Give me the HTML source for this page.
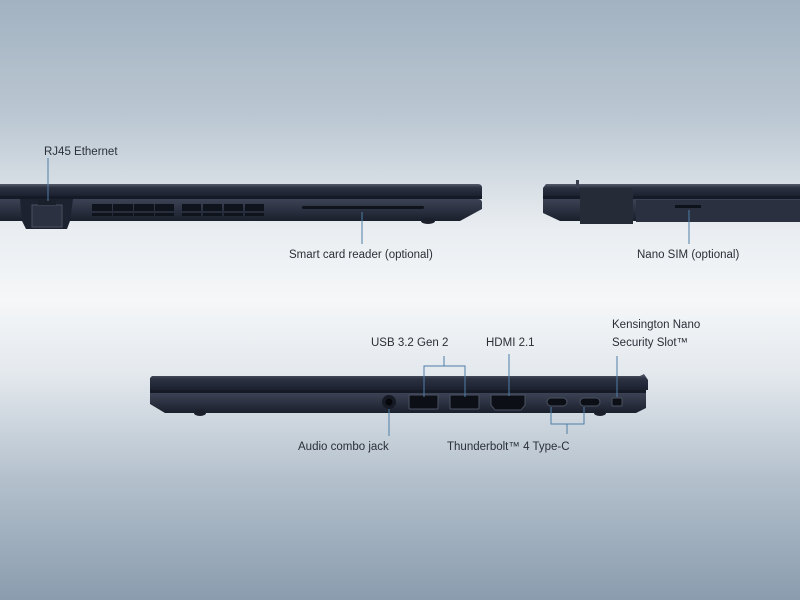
<!DOCTYPE html>
<html><head><style>
html,body{margin:0;padding:0;width:800px;height:600px;overflow:hidden}
text{font-family:"Liberation Sans",sans-serif;font-size:11.5px;fill:#2a2f38}
</style></head><body>
<svg width="800" height="600" viewBox="0 0 800 600" xmlns="http://www.w3.org/2000/svg">
<defs>
<linearGradient id="bg" x1="0" y1="0" x2="0" y2="1">
<stop offset="0" stop-color="#a2b2c1"/>
<stop offset="0.2" stop-color="#bcc8d3"/>
<stop offset="0.38" stop-color="#e9edf1"/>
<stop offset="0.5" stop-color="#f5f7f8"/>
<stop offset="0.62" stop-color="#e4e9ee"/>
<stop offset="0.8" stop-color="#b3c0cc"/>
<stop offset="1" stop-color="#8a9cae"/>
</linearGradient>
<linearGradient id="lid" x1="0" y1="0" x2="0" y2="1">
<stop offset="0" stop-color="#555c6c"/><stop offset="0.3" stop-color="#2c3242"/><stop offset="1" stop-color="#1c2130"/>
</linearGradient>
<linearGradient id="base" x1="0" y1="0" x2="0" y2="1">
<stop offset="0" stop-color="#3c4354"/><stop offset="1" stop-color="#1a1f2c"/>
</linearGradient>
</defs>
<rect width="800" height="600" fill="url(#bg)"/>

<!-- Laptop 1 -->
<path d="M0 184 H478 Q482 184 482 188 V196 H0Z" fill="url(#lid)"/>
<rect x="0" y="196" width="482" height="3" fill="#151a26"/>
<path d="M0 199 H478 Q482 199 482 203 V209 L460 221 H0Z" fill="url(#base)"/>
<ellipse cx="428" cy="221" rx="7" ry="3" fill="#1a1f2b"/>
<path d="M20 199 H73 L70 221 L67 229 H26 L22 221Z" fill="#1d2230"/>
<rect x="32" y="205" width="30" height="22" fill="#2b3140" stroke="#4a5060" stroke-width="1"/>
<rect x="38" y="200" width="18" height="5" fill="#1a1f2a"/>
<g fill="#0f131c">
<rect x="92" y="204" width="20" height="7"/><rect x="113" y="204" width="20" height="7"/><rect x="134" y="204" width="20" height="7"/><rect x="155" y="204" width="19" height="7"/>
<rect x="182" y="204" width="19" height="7"/><rect x="203" y="204" width="19" height="7"/><rect x="224" y="204" width="19" height="7"/><rect x="245" y="204" width="19" height="7"/>
<rect x="92" y="213" width="20" height="3"/><rect x="113" y="213" width="20" height="3"/><rect x="134" y="213" width="20" height="3"/><rect x="155" y="213" width="19" height="3"/>
<rect x="182" y="213" width="19" height="3"/><rect x="203" y="213" width="19" height="3"/><rect x="224" y="213" width="19" height="3"/><rect x="245" y="213" width="19" height="3"/>
<rect x="302" y="206" width="122" height="3" rx="1.5"/>
</g>
<line x1="48" y1="158" x2="48" y2="201" stroke="#4d7ea6" stroke-width="1"/>
<text x="44" y="155">RJ45 Ethernet</text>
<line x1="362" y1="212" x2="362" y2="244" stroke="#4d7ea6" stroke-width="1"/>
<text x="289" y="258">Smart card reader (optional)</text>

<!-- Laptop 2 -->
<path d="M546 184 H800 V196 H543 V188Z" fill="url(#lid)"/>
<rect x="543" y="196" width="257" height="3" fill="#151a26"/>
<path d="M543 199 H800 V221 H560 L543 213Z" fill="url(#base)"/>
<rect x="580" y="188" width="53" height="36" fill="#262b38"/>
<rect x="576" y="180" width="3" height="8" fill="#3a4050"/>
<rect x="636" y="200" width="164" height="22" fill="#2a3040"/>
<rect x="675" y="205" width="26" height="3" fill="#0e121a"/>
<line x1="689" y1="210" x2="689" y2="244" stroke="#4d7ea6" stroke-width="1"/>
<text x="637" y="258">Nano SIM (optional)</text>

<!-- Laptop 3 -->
<path d="M152 376 H640 L644 374 L648 380 V390 H150 V378Z" fill="url(#lid)"/>
<rect x="150" y="390" width="496" height="3" fill="#151a26"/>
<path d="M150 393 H646 V408 L636 413 H165 L150 404Z" fill="url(#base)"/>
<ellipse cx="200" cy="413" rx="6" ry="3" fill="#1a1f2b"/>
<ellipse cx="600" cy="413" rx="6" ry="3" fill="#1a1f2b"/>
<circle cx="389" cy="402" r="7" fill="#161a24"/><circle cx="389" cy="402" r="3.5" fill="#05070b"/>
<g fill="#0c0f16" stroke="#4a5262" stroke-width="1">
<rect x="409" y="395" width="29" height="14" rx="1"/>
<rect x="450" y="395" width="29" height="14" rx="1"/>
<path d="M491 395 H525 V405 L521 410 H495 L491 405Z"/>
<rect x="547" y="398" width="20" height="8" rx="4"/>
<rect x="580" y="398" width="20" height="8" rx="4"/>
<rect x="612" y="398" width="10" height="8" rx="1"/>
</g>
<g stroke="#4d7ea6" stroke-width="1" fill="none">
<polyline points="424,397 424,366 465,366 465,397"/>
<line x1="444" y1="366" x2="444" y2="356"/>
<line x1="509" y1="354" x2="509" y2="396"/>
<line x1="617" y1="356" x2="617" y2="397"/>
<line x1="389" y1="409" x2="389" y2="436"/>
<polyline points="551,407 551,424 584,424 584,407"/>
<line x1="567" y1="424" x2="567" y2="434"/>
</g>
<text x="371" y="346">USB 3.2 Gen 2</text>
<text x="486" y="346">HDMI 2.1</text>
<text x="612" y="328">Kensington Nano</text>
<text x="612" y="346">Security Slot™</text>
<text x="298" y="450">Audio combo jack</text>
<text x="447" y="450">Thunderbolt™ 4 Type-C</text>
</svg>
</body></html>
